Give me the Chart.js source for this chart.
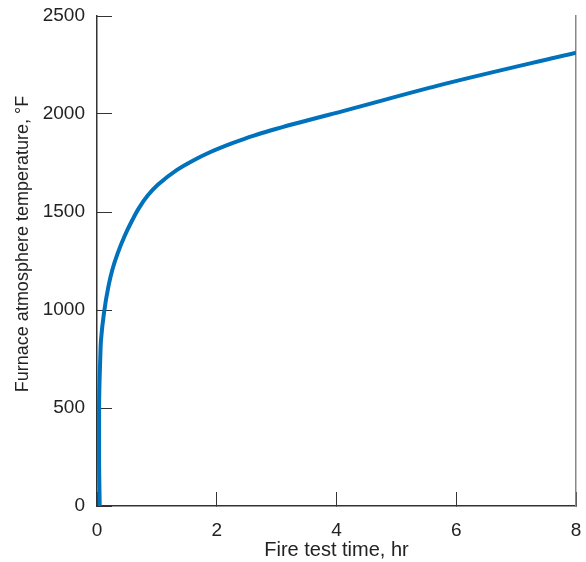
<!DOCTYPE html>
<html>
<head>
<meta charset="utf-8">
<script src="https://cdn.jsdelivr.net/npm/chart.js@4"></script>
<style>
  html, body { margin: 0; padding: 0; background: #fff; }
  #wrap { width: 586px; height: 562px; }
</style>
</head>
<body>
<div id="wrap"><canvas id="fireChart"></canvas></div>
<script>
// standard fire curve, time in hours vs furnace temperature
const hours = [0.045, 0.035, 0.035, 0.055, 0.067, 0.117, 0.19, 0.255, 0.345, 0.456, 0.59, 0.70, 0.85, 1.02, 1.33, 1.6, 1.85, 2.25, 2.62, 3.3, 4.17, 5.84, 8.0];
const tempF = [0, 250, 500, 760, 847, 986, 1119, 1204, 1289, 1374, 1459, 1520, 1585, 1640, 1714, 1762, 1800, 1850, 1890, 1950, 2020, 2156, 2313];

const xTicks = [0, 2, 4, 6, 8];
const yTicks = [0, 500, 1000, 1500, 2000, 2500];

const FONT = "'Liberation Sans', Arial, sans-serif";
const AXIS = '#333';

// y title is drawn by hand so it can sit a bit lower than the plot centre
const yTitle = {
  id: 'yTitle',
  afterDraw(chart) {
    const ctx = chart.ctx;
    ctx.save();
    ctx.translate(23, 244);
    ctx.rotate(-Math.PI / 2);
    ctx.font = '18px ' + FONT;
    ctx.fillStyle = '#222';
    ctx.textAlign = 'center';
    ctx.textBaseline = 'middle';
    ctx.fillText('Furnace atmosphere temperature, °F', 0, 0);
    ctx.restore();
  }
};

new Chart(document.getElementById('fireChart'), {
  type: 'line',
  data: {
    datasets: [{
      data: hours.map((h, i) => ({ x: h, y: tempF[i] })),
      borderColor: '#0072bc',
      borderWidth: 4,
      pointRadius: 0,
      cubicInterpolationMode: 'monotone',
      fill: false
    }]
  },
  options: {
    indexAxis: 'y',
    responsive: true,
    maintainAspectRatio: false,
    animation: false,
    layout: { padding: { top: 16, right: 10, left: 0, bottom: 0 } },
    plugins: { legend: { display: false }, tooltip: { enabled: false } },
    scales: {
      x: {
        type: 'linear',
        position: 'bottom',
        min: 0, max: 8,
        afterBuildTicks: s => { s.ticks = xTicks.map(v => ({ value: v })); },
        afterFit: s => { s.height = 56; s.paddingLeft = 0; s.paddingRight = 0; },
        grid: { drawOnChartArea: false, tickLength: -14, color: AXIS, lineWidth: 1 },
        border: { color: AXIS, width: 1.5 },
        ticks: { padding: 27, color: '#222', font: { family: FONT, size: 19 }, callback: v => String(v) },
        title: {
          display: true, text: 'Fire test time, hr', color: '#222',
          font: { family: FONT, size: 20 }, padding: { top: 0, bottom: 0 }
        }
      },
      y: {
        type: 'linear',
        position: 'left',
        min: 0, max: 2500,
        afterBuildTicks: s => { s.ticks = yTicks.map(v => ({ value: v })); },
        afterFit: s => { s.width = 97; s.paddingTop = 0; s.paddingBottom = 0; },
        grid: { drawOnChartArea: false, tickLength: -15, color: AXIS, lineWidth: 1 },
        border: { color: AXIS, width: 1.5 },
        ticks: { padding: 27, color: '#222', font: { family: FONT, size: 19 }, callback: v => String(v) }
      },
      yRight: {
        type: 'linear',
        position: 'right',
        min: 0, max: 2500,
        afterFit: s => { s.width = 0; s.paddingTop = 0; s.paddingBottom = 0; },
        grid: { drawOnChartArea: false, drawTicks: false },
        border: { color: '#888', width: 1.5 },
        ticks: { display: false }
      }
    }
  },
  plugins: [yTitle]
});
</script>
</body>
</html>
